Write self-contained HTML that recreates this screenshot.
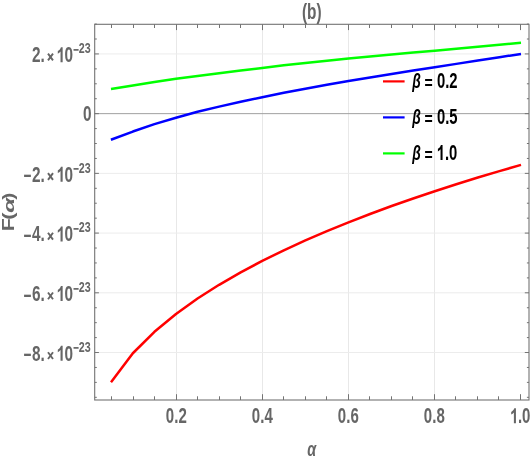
<!DOCTYPE html>
<html><head><meta charset="utf-8"><title>plot</title>
<style>html,body{margin:0;padding:0;background:#fff;overflow:hidden}body{width:531px;height:461px;position:relative;font-family:"Liberation Sans",sans-serif}</style></head>
<body>
<svg width="531" height="461" viewBox="0 0 531 461" style="display:block;position:absolute;left:0;top:0">
<rect width="531" height="461" fill="#fff"/>
<line x1="176.50" y1="24.3" x2="176.50" y2="400.0" stroke="#e8e8e8" stroke-width="1"/>
<line x1="262.50" y1="24.3" x2="262.50" y2="400.0" stroke="#e8e8e8" stroke-width="1"/>
<line x1="348.50" y1="24.3" x2="348.50" y2="400.0" stroke="#e8e8e8" stroke-width="1"/>
<line x1="434.50" y1="24.3" x2="434.50" y2="400.0" stroke="#e8e8e8" stroke-width="1"/>
<line x1="94.7" y1="53.93" x2="529.0" y2="53.93" stroke="#ececec" stroke-width="1"/>
<line x1="94.7" y1="173.37" x2="529.0" y2="173.37" stroke="#ececec" stroke-width="1"/>
<line x1="94.7" y1="233.09" x2="529.0" y2="233.09" stroke="#ececec" stroke-width="1"/>
<line x1="94.7" y1="292.81" x2="529.0" y2="292.81" stroke="#ececec" stroke-width="1"/>
<line x1="94.7" y1="352.53" x2="529.0" y2="352.53" stroke="#ececec" stroke-width="1"/>
<line x1="94.7" y1="113.65" x2="529.0" y2="113.65" stroke="#a0a0a0" stroke-width="1"/>
<clipPath id="cp"><rect x="94.7" y="24.3" width="434.3" height="375.7"/></clipPath>
<polyline points="111.0,382.3 132.86,353.26 154.43,331.77 175.99,313.97 197.55,298.54 219.12,284.8 240.68,272.34 262.24,260.91 283.81,250.3 305.37,240.39 326.93,231.09 348.49,222.29 370.06,213.96 391.62,206.02 413.18,198.45 434.75,191.2 456.31,184.24 477.87,177.56 499.44,171.13 521.0,164.92" fill="none" stroke="#ff0000" stroke-width="2.5" stroke-linejoin="round" stroke-linecap="butt"/>
<polyline points="110.89999999999999,139.73 132.86,131.55 154.43,124.16 175.99,117.76 197.55,111.83 219.12,106.63 240.68,101.78 262.24,97.2 283.81,92.75 305.37,88.68 326.93,84.82 348.49,81.09 370.06,77.49 391.62,73.99 413.18,70.58 434.75,67.26 456.31,63.86 477.87,60.48 499.44,57.17 521.0,53.96" fill="none" stroke="#0000ff" stroke-width="2.5" stroke-linejoin="round" stroke-linecap="butt"/>
<polyline points="111.0,89.04 132.86,85.44 154.43,81.94 175.99,78.74 197.55,76.02 219.12,73.18 240.68,70.51 262.24,67.97 283.81,65.36 305.37,62.89 326.93,60.67 348.49,58.54 370.06,56.48 391.62,54.48 413.18,52.55 434.75,50.67 456.31,48.65 477.87,46.67 499.44,44.74 521.0,42.85" fill="none" stroke="#00ff00" stroke-width="2.5" stroke-linejoin="round" stroke-linecap="butt"/>
<rect x="94.7" y="24.3" width="434.3" height="375.7" fill="none" stroke="#737373" stroke-width="1.1"/>
<path d="M111.50 400.0v-3.7M111.50 24.3v3.7M133.50 400.0v-3.7M133.50 24.3v3.7M154.50 400.0v-3.7M154.50 24.3v3.7M176.50 400.0v-5.8M176.50 24.3v5.8M197.50 400.0v-3.7M197.50 24.3v3.7M219.50 400.0v-3.7M219.50 24.3v3.7M240.50 400.0v-3.7M240.50 24.3v3.7M262.50 400.0v-5.8M262.50 24.3v5.8M283.50 400.0v-3.7M283.50 24.3v3.7M305.50 400.0v-3.7M305.50 24.3v3.7M326.50 400.0v-3.7M326.50 24.3v3.7M348.50 400.0v-5.8M348.50 24.3v5.8M369.50 400.0v-3.7M369.50 24.3v3.7M391.50 400.0v-3.7M391.50 24.3v3.7M412.50 400.0v-3.7M412.50 24.3v3.7M434.50 400.0v-5.8M434.50 24.3v5.8M455.50 400.0v-3.7M455.50 24.3v3.7M477.50 400.0v-3.7M477.50 24.3v3.7M498.50 400.0v-3.7M498.50 24.3v3.7M520.50 400.0v-5.8M520.50 24.3v5.8M94.7 397.32h2.1M529.0 397.32h-2.1M94.7 382.39h2.1M529.0 382.39h-2.1M94.7 367.46h2.1M529.0 367.46h-2.1M94.7 352.53h4.2M529.0 352.53h-4.2M94.7 337.60h2.1M529.0 337.60h-2.1M94.7 322.67h2.1M529.0 322.67h-2.1M94.7 307.74h2.1M529.0 307.74h-2.1M94.7 292.81h4.2M529.0 292.81h-4.2M94.7 277.88h2.1M529.0 277.88h-2.1M94.7 262.95h2.1M529.0 262.95h-2.1M94.7 248.02h2.1M529.0 248.02h-2.1M94.7 233.09h4.2M529.0 233.09h-4.2M94.7 218.16h2.1M529.0 218.16h-2.1M94.7 203.23h2.1M529.0 203.23h-2.1M94.7 188.30h2.1M529.0 188.30h-2.1M94.7 173.37h4.2M529.0 173.37h-4.2M94.7 158.44h2.1M529.0 158.44h-2.1M94.7 143.51h2.1M529.0 143.51h-2.1M94.7 128.58h2.1M529.0 128.58h-2.1M94.7 113.65h4.2M529.0 113.65h-4.2M94.7 98.72h2.1M529.0 98.72h-2.1M94.7 83.79h2.1M529.0 83.79h-2.1M94.7 68.86h2.1M529.0 68.86h-2.1M94.7 53.93h4.2M529.0 53.93h-4.2M94.7 39.00h2.1M529.0 39.00h-2.1M94.7 24.07h2.1M529.0 24.07h-2.1" stroke="#737373" stroke-width="1" fill="none"/>
<filter id="bl" x="-5%" y="-5%" width="110%" height="110%"><feGaussianBlur stdDeviation="0.35"/></filter>
<g font-family="'Liberation Sans', sans-serif" filter="url(#bl)">
<text transform="translate(176.3,423.2) scale(0.7,1)" text-anchor="middle" fill="#666666" font-size="21.5" font-weight="bold" >0.2</text>
<text transform="translate(262.3,423.2) scale(0.7,1)" text-anchor="middle" fill="#666666" font-size="21.5" font-weight="bold" >0.4</text>
<text transform="translate(348.3,423.2) scale(0.7,1)" text-anchor="middle" fill="#666666" font-size="21.5" font-weight="bold" >0.6</text>
<text transform="translate(434.3,423.2) scale(0.7,1)" text-anchor="middle" fill="#666666" font-size="21.5" font-weight="bold" >0.8</text>
<path transform="translate(510.03,423.2) scale(15.050,20.855)" d="M0.393 0L0.256 0L0.256 -0.517Q0.18 -0.446 0.078 -0.412L0.078 -0.537Q0.132 -0.554 0.195 -0.604Q0.258 -0.653 0.282 -0.719L0.393 -0.719Z" fill="#666666"/>
<text transform="translate(517.9,423.2) scale(0.7,1)" text-anchor="start" fill="#666666" font-size="21.5" font-weight="bold" >.0</text>
<text transform="translate(32.0,62.23) scale(0.715,1)" text-anchor="start" fill="#666666" font-size="21.5" font-weight="bold" >2.</text>
<path d="M48.00 53.63L53.00 60.43M53.00 53.63L48.00 60.43" stroke="#666666" stroke-width="1.9" fill="none"/>
<path transform="translate(56.60,62.23) scale(15.372,20.855)" d="M0.393 0L0.256 0L0.256 -0.517Q0.18 -0.446 0.078 -0.412L0.078 -0.537Q0.132 -0.554 0.195 -0.604Q0.258 -0.653 0.282 -0.719L0.393 -0.719Z" fill="#666666"/>
<text transform="translate(64.5,62.23) scale(0.715,1)" text-anchor="start" fill="#666666" font-size="21.5" font-weight="bold" >0</text>
<text transform="translate(73.3,54.83) scale(0.66,1)" text-anchor="start" fill="#666666" font-size="15.26" font-weight="bold" >−</text>
<text transform="translate(78.7,53.23) scale(0.7,1)" text-anchor="start" fill="#666666" font-size="15.26" font-weight="bold" >23</text>
<text transform="translate(23.4,183.17) scale(0.63,1)" text-anchor="start" fill="#666666" font-size="21.5" font-weight="bold" >−</text>
<text transform="translate(32.0,181.67) scale(0.715,1)" text-anchor="start" fill="#666666" font-size="21.5" font-weight="bold" >2.</text>
<path d="M48.00 173.07L53.00 179.87M53.00 173.07L48.00 179.87" stroke="#666666" stroke-width="1.9" fill="none"/>
<path transform="translate(56.60,181.67) scale(15.372,20.855)" d="M0.393 0L0.256 0L0.256 -0.517Q0.18 -0.446 0.078 -0.412L0.078 -0.537Q0.132 -0.554 0.195 -0.604Q0.258 -0.653 0.282 -0.719L0.393 -0.719Z" fill="#666666"/>
<text transform="translate(64.5,181.67) scale(0.715,1)" text-anchor="start" fill="#666666" font-size="21.5" font-weight="bold" >0</text>
<text transform="translate(73.3,174.27) scale(0.66,1)" text-anchor="start" fill="#666666" font-size="15.26" font-weight="bold" >−</text>
<text transform="translate(78.7,172.67) scale(0.7,1)" text-anchor="start" fill="#666666" font-size="15.26" font-weight="bold" >23</text>
<text transform="translate(23.4,242.89) scale(0.63,1)" text-anchor="start" fill="#666666" font-size="21.5" font-weight="bold" >−</text>
<text transform="translate(32.0,241.39) scale(0.715,1)" text-anchor="start" fill="#666666" font-size="21.5" font-weight="bold" >4.</text>
<path d="M48.00 232.79L53.00 239.59M53.00 232.79L48.00 239.59" stroke="#666666" stroke-width="1.9" fill="none"/>
<path transform="translate(56.60,241.39) scale(15.372,20.855)" d="M0.393 0L0.256 0L0.256 -0.517Q0.18 -0.446 0.078 -0.412L0.078 -0.537Q0.132 -0.554 0.195 -0.604Q0.258 -0.653 0.282 -0.719L0.393 -0.719Z" fill="#666666"/>
<text transform="translate(64.5,241.39) scale(0.715,1)" text-anchor="start" fill="#666666" font-size="21.5" font-weight="bold" >0</text>
<text transform="translate(73.3,233.99) scale(0.66,1)" text-anchor="start" fill="#666666" font-size="15.26" font-weight="bold" >−</text>
<text transform="translate(78.7,232.39) scale(0.7,1)" text-anchor="start" fill="#666666" font-size="15.26" font-weight="bold" >23</text>
<text transform="translate(23.4,302.61) scale(0.63,1)" text-anchor="start" fill="#666666" font-size="21.5" font-weight="bold" >−</text>
<text transform="translate(32.0,301.11) scale(0.715,1)" text-anchor="start" fill="#666666" font-size="21.5" font-weight="bold" >6.</text>
<path d="M48.00 292.51L53.00 299.31M53.00 292.51L48.00 299.31" stroke="#666666" stroke-width="1.9" fill="none"/>
<path transform="translate(56.60,301.11) scale(15.372,20.855)" d="M0.393 0L0.256 0L0.256 -0.517Q0.18 -0.446 0.078 -0.412L0.078 -0.537Q0.132 -0.554 0.195 -0.604Q0.258 -0.653 0.282 -0.719L0.393 -0.719Z" fill="#666666"/>
<text transform="translate(64.5,301.11) scale(0.715,1)" text-anchor="start" fill="#666666" font-size="21.5" font-weight="bold" >0</text>
<text transform="translate(73.3,293.71) scale(0.66,1)" text-anchor="start" fill="#666666" font-size="15.26" font-weight="bold" >−</text>
<text transform="translate(78.7,292.11) scale(0.7,1)" text-anchor="start" fill="#666666" font-size="15.26" font-weight="bold" >23</text>
<text transform="translate(23.4,362.33) scale(0.63,1)" text-anchor="start" fill="#666666" font-size="21.5" font-weight="bold" >−</text>
<text transform="translate(32.0,360.83) scale(0.715,1)" text-anchor="start" fill="#666666" font-size="21.5" font-weight="bold" >8.</text>
<path d="M48.00 352.23L53.00 359.03M53.00 352.23L48.00 359.03" stroke="#666666" stroke-width="1.9" fill="none"/>
<path transform="translate(56.60,360.83) scale(15.372,20.855)" d="M0.393 0L0.256 0L0.256 -0.517Q0.18 -0.446 0.078 -0.412L0.078 -0.537Q0.132 -0.554 0.195 -0.604Q0.258 -0.653 0.282 -0.719L0.393 -0.719Z" fill="#666666"/>
<text transform="translate(64.5,360.83) scale(0.715,1)" text-anchor="start" fill="#666666" font-size="21.5" font-weight="bold" >0</text>
<text transform="translate(73.3,353.43) scale(0.66,1)" text-anchor="start" fill="#666666" font-size="15.26" font-weight="bold" >−</text>
<text transform="translate(78.7,351.83) scale(0.7,1)" text-anchor="start" fill="#666666" font-size="15.26" font-weight="bold" >23</text>
<text transform="translate(82.9,121.25) scale(0.715,1)" text-anchor="start" fill="#666666" font-size="21.5" font-weight="bold" >0</text>
<text transform="translate(311.7,18.6) scale(0.715,1)" text-anchor="middle" fill="#666666" font-size="21.5" font-weight="bold" >(b)</text>
<text transform="translate(311.8,456.1) scale(0.715,1)" text-anchor="middle" fill="#666666" font-size="20.2" font-weight="bold" font-style="italic">α</text>
<text transform="translate(13.7,231.3) scale(0.81,1) rotate(-90)" fill="#666666" font-size="21.5" font-weight="bold" >F</text>
<text transform="translate(13.7,219.7) scale(0.81,1) rotate(-90)" fill="#666666" font-size="21.5" font-weight="bold" >(</text>
<text transform="translate(13.7,213.0) scale(0.68,1.14) rotate(-90)" fill="#666666" font-size="21.5" font-weight="bold" font-style="italic">α</text>
<text transform="translate(13.7,199.8) scale(0.81,1) rotate(-90)" fill="#666666" font-size="21.5" font-weight="bold" >)</text>
<line x1="383" y1="81.4" x2="404.6" y2="81.4" stroke="#ff0000" stroke-width="2.2"/>
<text transform="translate(412.2,87.7) scale(0.69,1)" text-anchor="start" fill="#000" font-size="20.0" font-weight="bold" font-style="italic">β</text>
<text transform="translate(424.6,89.0) scale(0.78,1)" text-anchor="start" fill="#000" font-size="18.0" font-weight="bold" >=</text>
<text transform="translate(437.0,88.0) scale(0.69,1)" text-anchor="start" fill="#000" font-size="21.5" font-weight="bold" >0.2</text>
<line x1="383" y1="117.4" x2="404.6" y2="117.4" stroke="#0000ff" stroke-width="2.2"/>
<text transform="translate(412.2,123.7) scale(0.69,1)" text-anchor="start" fill="#000" font-size="20.0" font-weight="bold" font-style="italic">β</text>
<text transform="translate(424.6,125.0) scale(0.78,1)" text-anchor="start" fill="#000" font-size="18.0" font-weight="bold" >=</text>
<text transform="translate(437.0,124.0) scale(0.69,1)" text-anchor="start" fill="#000" font-size="21.5" font-weight="bold" >0.5</text>
<line x1="383" y1="153.4" x2="404.6" y2="153.4" stroke="#00ff00" stroke-width="2.2"/>
<text transform="translate(412.2,159.7) scale(0.69,1)" text-anchor="start" fill="#000" font-size="20.0" font-weight="bold" font-style="italic">β</text>
<text transform="translate(424.6,161.0) scale(0.78,1)" text-anchor="start" fill="#000" font-size="18.0" font-weight="bold" >=</text>
<path transform="translate(436.74,160.0) scale(14.835,20.855)" d="M0.393 0L0.256 0L0.256 -0.517Q0.18 -0.446 0.078 -0.412L0.078 -0.537Q0.132 -0.554 0.195 -0.604Q0.258 -0.653 0.282 -0.719L0.393 -0.719Z" fill="#000"/>
<text transform="translate(445.0,160.0) scale(0.69,1)" text-anchor="start" fill="#000" font-size="21.5" font-weight="bold" >.0</text>
</g></svg>
</body></html>
